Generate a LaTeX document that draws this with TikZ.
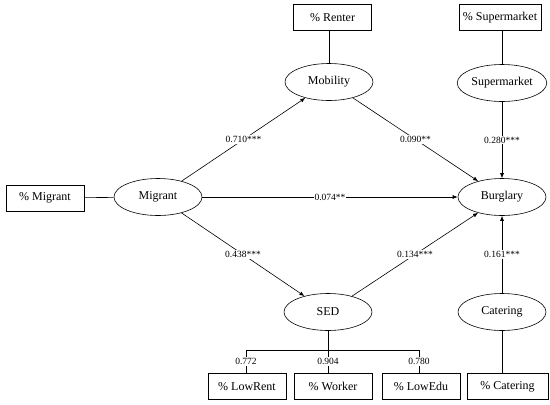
\documentclass[tikz,border=0pt]{standalone}
\usepackage{fontspec}
\setmainfont{Liberation Serif}
\usetikzlibrary{shapes.geometric,arrows.meta}
\begin{document}
\begin{tikzpicture}[x=1pt,y=-1pt,
  lv/.style={draw, ellipse, minimum width=88pt, minimum height=37pt, inner sep=1pt, font=\fontsize{12}{14}\selectfont, line width=0.6pt},
  ob/.style={draw, rectangle, minimum width=78pt, minimum height=26pt, inner xsep=4pt, font=\fontsize{12}{14}\selectfont, line width=0.6pt},
  lab/.style={fill=white, inner sep=1pt, font=\fontsize{9.5}{11}\selectfont},
  conn/.style={line width=0.6pt},
  arr/.style={line width=0.6pt, -{Latex[length=5pt,width=4pt]}}
]
\useasboundingbox (0,0) rectangle (550,405);
% latent variables
\node[lv] (mig) at (158,197) {Migrant};
\node[lv] (mob) at (329,82) {Mobility};
\node[lv] (sup) at (502,83) {Supermarket};
\node[lv] (bur) at (502,197) {Burglary};
\node[lv] (sed) at (328,312) {SED};
\node[lv] (cat) at (502,312) {Catering};
% observed
\node[ob] (pmig) at (45,198) {\% Migrant};
\node[ob] (pren) at (332.5,17.5) {\% Renter};
\node[ob] (psup) at (500,17.5) {\% Supermarket};
\node[ob, minimum width=81pt] (pcat) at (507.5,386.5) {\% Catering};
\node[ob] (plr) at (247,386.5) {\% LowRent};
\node[ob] (pwk) at (333,386.5) {\% Worker};
\node[ob] (ple) at (421,386.5) {\% LowEdu};
% measurement links
\draw[conn] (pmig) -- (mig);
\draw[conn] (mob.north) -- (mob.north |- pren.south);
\draw[conn] (sup.north) -- (sup.north |- psup.south);
\draw[conn] (cat.south) -- (cat.south |- pcat.north);
\coordinate (b0) at (328,350);
\coordinate (b1) at (246,350);
\coordinate (b2) at (328,350);
\coordinate (b3) at (419,350);
\draw[conn] (sed.south) -- (b0);
\draw[conn] (b1) -- (b3);
\draw[conn] (b1) -- node[lab]{0.772} (b1 |- plr.north);
\draw[conn] (b2) -- node[lab]{0.904} (b2 |- pwk.north);
\draw[conn] (b3) -- node[lab]{0.780} (b3 |- ple.north);
% structural paths
\draw[arr] (mig) -- node[lab]{0.710***} (mob);
\draw[arr] (mob) -- node[lab]{0.090**} (bur);
\draw[arr] (mig) -- node[lab]{0.074**} (bur);
\draw[arr] (mig) -- node[lab]{0.438***} (sed);
\draw[arr] (sed) -- node[lab]{0.134***} (bur);
\draw[arr] (sup.south) -- node[lab]{0.280***} (sup.south |- bur.north);
\draw[arr] (cat.north) -- node[lab]{0.161***} (cat.north |- bur.south);
\end{tikzpicture}
\end{document}
